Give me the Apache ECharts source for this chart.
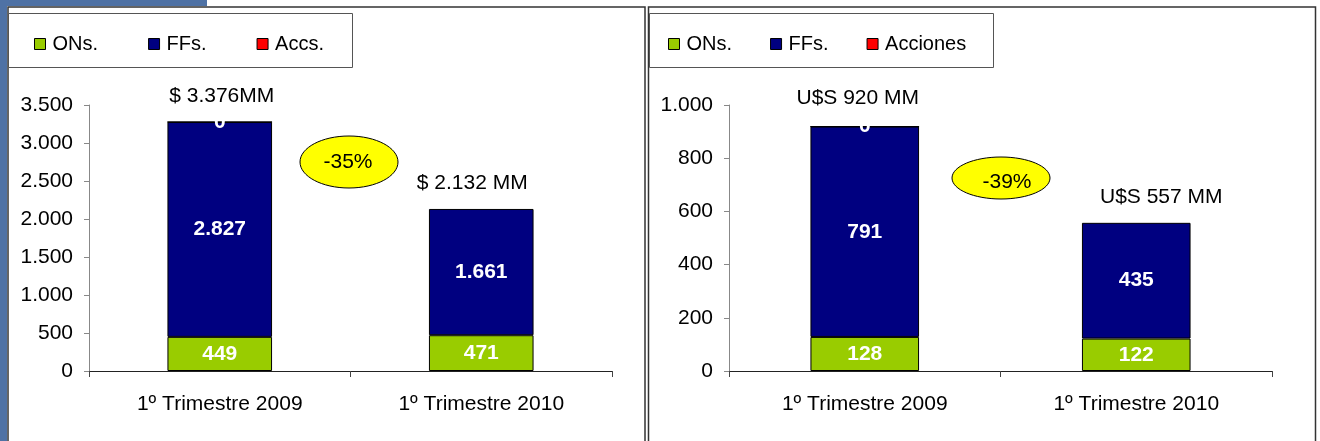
<!DOCTYPE html>
<html>
<head>
<meta charset="utf-8">
<script src="https://cdn.jsdelivr.net/npm/echarts@6/dist/echarts.min.js"></script>
<style>
html,body{margin:0;padding:0;background:#fff;}
#c{width:1320px;height:441px;}
</style>
</head>
<body>
<div id="c"></div>
<script>
// ---- data ----
const categories = ['1º Trimestre 2009', '1º Trimestre 2010'];
const pesosONs = [449, 471];
const pesosFFs = [2827, 1661];
const pesosAccs = [0, null];
const pesosTotals = ['$ 3.376MM', '$ 2.132 MM'];
const usdONs = [128, 122];
const usdFFs = [791, 435];
const usdAcciones = [0, null];
const usdTotals = ['U$S 920 MM', 'U$S 557 MM'];
const pesosAxis = { min: 0, max: 3500, interval: 500 };
const usdAxis = { min: 0, max: 1000, interval: 200 };
const changes = ['-35%', '-39%'];
const legendLeft = ['ONs.', 'FFs.', 'Accs.'];
const legendRight = ['ONs.', 'FFs.', 'Acciones'];

// ---- styling ----
const FONT = '"Liberation Sans", Arial, sans-serif';
const GREEN = '#99cc00', NAVY = '#000080', RED = '#ff0000';
const fmt = v => String(v).replace(/\B(?=(\d{3})+(?!\d))/g, '.');

const chart = echarts.init(document.getElementById('c'), null, { renderer: 'canvas' });

function segLabel(sz) {
  return { show: true, position: 'inside', color: '#fff', fontWeight: 'bold', fontSize: sz, fontFamily: FONT,
    formatter: p => fmt(p.value) };
}
function barSeries(name, data, color, idx, stack) {
  return { type: 'bar', name, data, stack, xAxisIndex: idx, yAxisIndex: idx, barWidth: '40%',
    itemStyle: { color, borderColor: '#000', borderWidth: 1 }, label: segLabel(21), emphasis: { disabled: true } };
}
function totalSeries(labels, idx, stack, offsets) {
  return { type: 'bar', name: 'total' + idx, stack, xAxisIndex: idx, yAxisIndex: idx, barWidth: '40%',
    itemStyle: { color: 'rgba(0,0,0,0)', borderWidth: 0 },
    data: labels.map((t, i) => ({ value: 0, label: { offset: offsets[i] } })),
    label: { show: true, position: 'top', distance: 15, color: '#000', fontSize: 21, fontFamily: FONT,
      formatter: p => labels[p.dataIndex] }, emphasis: { disabled: true } };
}
function xAxis(idx) {
  return { type: 'category', gridIndex: idx, data: categories,
    axisLine: { lineStyle: { color: '#222', width: 1 } },
    axisTick: { show: true, length: 6, lineStyle: { color: '#444' } },
    axisLabel: { color: '#000', fontSize: 21, fontFamily: FONT, margin: 23 } };
}
function yAxis(idx, ax) {
  return { type: 'value', gridIndex: idx, min: ax.min, max: ax.max, interval: ax.interval,
    splitLine: { show: false },
    axisLine: { show: true, lineStyle: { color: '#888', width: 1 } },
    axisTick: { show: true, length: 5, lineStyle: { color: '#888' } },
    axisLabel: { color: '#000', fontSize: 21, fontFamily: FONT, margin: 16, formatter: v => fmt(v) } };
}
function legend(left, names, gap) {
  return { left, top: 29, data: names, icon: 'rect', itemWidth: 11, itemHeight: 11, itemGap: gap,
    itemStyle: { borderColor: '#000', borderWidth: 1 },
    textStyle: { color: '#000', fontSize: 20, fontFamily: FONT, padding: [0, 0, 0, 2] }, selectedMode: false };
}

const option = {
  animation: false,
  backgroundColor: '#fff',
  graphic: [
    { type: 'rect', z: -10, shape: { x: 0, y: 0, width: 7, height: 441 }, style: { fill: '#4f72a5' } },
    { type: 'rect', z: -10, shape: { x: 0, y: 0, width: 207, height: 6 }, style: { fill: '#4f72a5' } },
    { type: 'rect', z: -9, shape: { x: 8, y: 7, width: 637, height: 440 }, style: { fill: '#fff', stroke: '#333', lineWidth: 1.5 } },
    { type: 'rect', z: -9, shape: { x: 648.5, y: 7, width: 667, height: 440 }, style: { fill: '#fff', stroke: '#333', lineWidth: 1.5 } },
    { type: 'rect', z: -8, shape: { x: 8.5, y: 13.5, width: 344, height: 54 }, style: { fill: '#fff', stroke: '#555', lineWidth: 1 } },
    { type: 'rect', z: -8, shape: { x: 649.5, y: 13.5, width: 344, height: 54 }, style: { fill: '#fff', stroke: '#555', lineWidth: 1 } },
    { type: 'ellipse', z: 100, shape: { cx: 349, cy: 162, rx: 49, ry: 26 }, style: { fill: '#ffff00', stroke: '#000', lineWidth: 1 } },
    { type: 'text', z: 101, x: 348, y: 162, style: { text: changes[0], fill: '#000', font: '21px ' + FONT, align: 'center', verticalAlign: 'middle' } },
    { type: 'ellipse', z: 100, shape: { cx: 1001, cy: 178, rx: 49, ry: 21 }, style: { fill: '#ffff00', stroke: '#000', lineWidth: 1 } },
    { type: 'text', z: 101, x: 1007, y: 182, style: { text: changes[1], fill: '#000', font: '21px ' + FONT, align: 'center', verticalAlign: 'middle' } }
  ],
  legend: [legend(29, legendLeft, 50), legend(663, legendRight, 38)],
  grid: [
    { left: 89, right: 1320 - 612, top: 105, bottom: 441 - 371 },
    { left: 729, right: 1320 - 1272, top: 105, bottom: 441 - 371 }
  ],
  xAxis: [xAxis(0), xAxis(1)],
  yAxis: [yAxis(0, pesosAxis), yAxis(1, usdAxis)],
  series: [
    barSeries('ONs.', pesosONs, GREEN, 0, 'p'),
    barSeries('FFs.', pesosFFs, NAVY, 0, 'p'),
    barSeries('Accs.', pesosAccs, RED, 0, 'p'),
    totalSeries(pesosTotals, 0, 'p', [[2, 0], [-9, 0]]),
    barSeries('ONs.', usdONs, GREEN, 1, 'u'),
    barSeries('FFs.', usdFFs, NAVY, 1, 'u'),
    barSeries('Acciones', usdAcciones, RED, 1, 'u'),
    totalSeries(usdTotals, 1, 'u', [[-7, -3], [25, 0]])
  ]
};
chart.setOption(option);
</script>
</body>
</html>
